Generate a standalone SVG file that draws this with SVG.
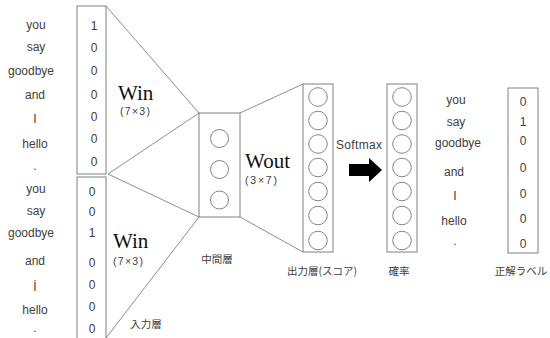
<svg xmlns="http://www.w3.org/2000/svg" width="550" height="338" viewBox="0 0 550 338">
<style>
.box{fill:none;stroke:#808080;stroke-width:1}
.ln{fill:none;stroke:#808080;stroke-width:0.9}
.c{fill:none;stroke:#777;stroke-width:0.9}
.w{font-family:"Liberation Sans","Noto Sans",sans-serif;font-size:12px;fill:#404040;text-anchor:middle;dominant-baseline:central}
.jp{font-family:"Noto Sans CJK JP","Noto Sans",sans-serif;font-size:10.5px;fill:#404040;text-anchor:middle;dominant-baseline:central}
.W{font-family:"Liberation Serif","DejaVu Serif",serif;font-size:21px;fill:#111}
.s{font-family:"Liberation Sans","Noto Sans",sans-serif;font-size:10.5px;fill:#404040}
</style>
<rect width="550" height="338" fill="#fff"/>
<g id="connectors">
<line class="ln" x1="106" y1="6" x2="199" y2="113"/>
<line class="ln" x1="108" y1="174" x2="199" y2="113"/>
<line class="ln" x1="108" y1="174" x2="199" y2="217"/>
<line class="ln" x1="106" y1="338" x2="199" y2="217"/>
<line class="ln" x1="240" y1="113" x2="303" y2="84"/>
<line class="ln" x1="240" y1="217" x2="303" y2="252"/>
</g>
<g id="input-top">
<rect class="box" x="77" y="6" width="29" height="168"/>
<text class="w" x="36" y="25">you</text>
<text class="w" x="36" y="47">say</text>
<text class="w" x="31" y="71">goodbye</text>
<text class="w" x="35" y="95">and</text>
<text class="w" x="35" y="119">I</text>
<text class="w" x="35" y="144">hello</text>
<text class="w" x="35" y="166">.</text>
<text class="w" x="94" y="26">1</text>
<text class="w" x="94" y="48">0</text>
<text class="w" x="94" y="71">0</text>
<text class="w" x="94" y="95">0</text>
<text class="w" x="94" y="117">0</text>
<text class="w" x="94" y="139">0</text>
<text class="w" x="94" y="162">0</text>
</g>
<g id="input-bottom">
<rect class="box" x="77" y="177" width="29" height="170"/>
<text class="w" x="36" y="189">you</text>
<text class="w" x="36" y="211">say</text>
<text class="w" x="31" y="233">goodbye</text>
<text class="w" x="35" y="261">and</text>
<text class="w" x="35" y="287">İ</text>
<text class="w" x="35" y="310">hello</text>
<text class="w" x="35" y="328">.</text>
<text class="w" x="92" y="192">0</text>
<text class="w" x="92" y="212">0</text>
<text class="w" x="92" y="233">1</text>
<text class="w" x="92" y="263">0</text>
<text class="w" x="92" y="285">0</text>
<text class="w" x="92" y="307">0</text>
<text class="w" x="92" y="329">0</text>
<text class="jp" x="146" y="323">入力層</text>
</g>
<g id="win-top">
<text class="W" x="118" y="100">Win</text>
<text class="s" x="120" y="115" textLength="30">(7×3)</text>
</g>
<g id="win-bottom">
<text class="W" x="113" y="248">Win</text>
<text class="s" x="113" y="265" textLength="30">(7×3)</text>
</g>
<g id="hidden">
<rect class="box" x="199" y="113" width="41" height="104"/>
<circle class="c" cx="219.5" cy="138.5" r="9"/>
<circle class="c" cx="219.5" cy="169.5" r="9"/>
<circle class="c" cx="219.5" cy="200" r="9"/>
<text class="jp" x="217" y="258">中間層</text>
</g>
<g id="wout">
<text class="W" x="245" y="168">Wout</text>
<text class="s" x="245" y="184" textLength="32">(3×7)</text>
</g>
<g id="output">
<rect class="box" x="303" y="84" width="30" height="168"/>
<circle class="c" cx="318" cy="97" r="9.3"/>
<circle class="c" cx="318" cy="120.5" r="9.3"/>
<circle class="c" cx="318" cy="144" r="9.3"/>
<circle class="c" cx="318" cy="167.5" r="9.3"/>
<circle class="c" cx="318" cy="191.5" r="9.3"/>
<circle class="c" cx="318" cy="215.5" r="9.3"/>
<circle class="c" cx="318" cy="240.5" r="9.3"/>
<text class="jp" x="322" y="270">出力層(スコア)</text>
</g>
<g id="softmax">
<text class="w" x="359" y="145" textLength="46">Softmax</text>
<polygon points="349,164 369,164 369,158 382,170 369,182 369,176 349,176" fill="#000"/>
</g>
<g id="prob">
<rect class="box" x="387" y="84" width="30" height="168"/>
<circle class="c" cx="402" cy="97" r="9.3"/>
<circle class="c" cx="402" cy="120.5" r="9.3"/>
<circle class="c" cx="402" cy="144" r="9.3"/>
<circle class="c" cx="402" cy="167.5" r="9.3"/>
<circle class="c" cx="402" cy="191.5" r="9.3"/>
<circle class="c" cx="402" cy="215.5" r="9.3"/>
<circle class="c" cx="402" cy="240.5" r="9.3"/>
<text class="jp" x="399" y="270">確率</text>
</g>
<g id="words-right">
<text class="w" x="456" y="100">you</text>
<text class="w" x="456" y="122">say</text>
<text class="w" x="458" y="143">goodbye</text>
<text class="w" x="454" y="172">and</text>
<text class="w" x="455" y="196">I</text>
<text class="w" x="454" y="221">hello</text>
<text class="w" x="455" y="241">.</text>
</g>
<g id="label">
<rect class="box" x="508" y="88" width="30" height="165"/>
<text class="w" x="523" y="102">0</text>
<text class="w" x="523" y="122">1</text>
<text class="w" x="523" y="141">0</text>
<text class="w" x="523" y="168">0</text>
<text class="w" x="523" y="194">0</text>
<text class="w" x="523" y="219">0</text>
<text class="w" x="523" y="244">0</text>
<text class="jp" x="521" y="270">正解ラベル</text>
</g>
</svg>
